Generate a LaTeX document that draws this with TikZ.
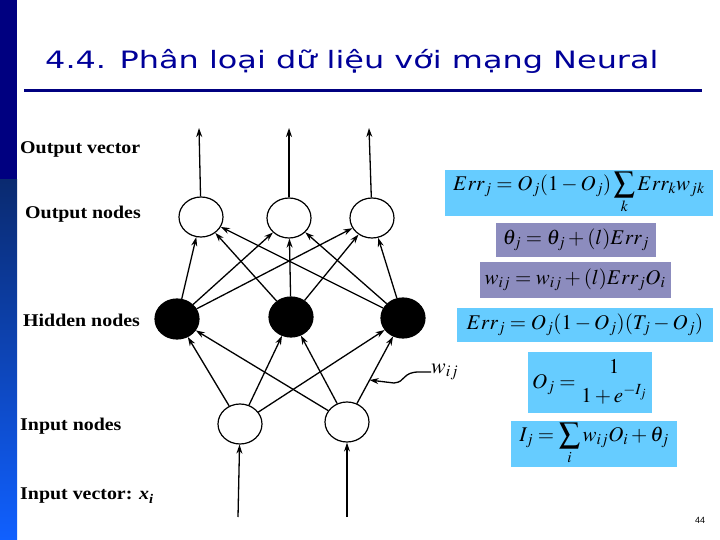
\documentclass[tikz,border=0pt]{standalone}
\usepackage{amsmath}
\usepackage{mathptmx}
\usepackage{fontspec}
\setmainfont{Liberation Serif}
\newfontfamily\titlefont{DejaVu Sans}
\newfontfamily\pagefont{Liberation Sans}
\usetikzlibrary{arrows.meta,shapes.geometric}

\definecolor{navy}{RGB}{0,0,128}
\definecolor{titleblue}{RGB}{0,0,153}
\definecolor{barmid}{RGB}{10,42,112}
\definecolor{barlow}{RGB}{16,96,255}
\definecolor{eqblue}{RGB}{102,204,255}
\definecolor{eqgray}{RGB}{140,140,190}

\newcommand{\wide}[2]{\scalebox{#1}[1]{#2}}

\begin{document}
\begin{tikzpicture}[x=1bp, y=-1bp,
    outnode/.style={ellipse, draw, line width=1.2bp, minimum width=44bp, minimum height=40bp, inner sep=0pt},
    hidnode/.style={outnode, fill=black},
    link/.style={line width=1.3bp, -{Stealth[length=9bp,width=6bp]}},
    lbl/.style={anchor=west, inner sep=0pt, font=\fontsize{18}{20}\selectfont\bfseries},
    eqbox/.style={fill=eqblue, inner sep=0pt, font=\fontsize{21}{23}\selectfont}]

    \useasboundingbox (0,0) rectangle (720,540);

    % Side bar
    \fill[navy] (0,0) rectangle (17,180);
    \shade[top color=barmid, bottom color=barlow] (0,180) rectangle (17,540);

    % Title
    \node[anchor=base west, inner sep=0pt, text=titleblue, font=\titlefont\fontsize{24}{28}\selectfont] (title) at (45,69)
        {\wide{1.335}{4.4. Phân loại dữ liệu với mạng Neural}};
    \draw[navy, line width=3bp] (24,91) -- (702,91);

    % Layers
    \foreach \n/\x/\y in {1/201/217, 2/289/218, 3/372/218} {
        \node[outnode] (o\n) at (\x,\y) {};
    }
    \foreach \n/\x/\y in {1/177/319, 2/291/317, 3/403/318} {
        \node[hidnode] (h\n) at (\x,\y) {};
    }
    \foreach \n/\x/\y in {1/240/424, 2/347/422} {
        \node[outnode] (i\n) at (\x,\y) {};
    }

    % Output vector
    \foreach \n/\x in {1/199, 2/289, 3/369} {
        \coordinate (v\n) at (\x,128);
        \draw[link] (o\n) -- (v\n);
    }

    % Input vector
    \foreach \n/\x in {1/238, 2/347} {
        \coordinate (x\n) at (\x,517);
        \draw[link] (x\n) -- (i\n);
    }

    % Weights
    \foreach \h in {1,2,3} {
        \foreach \o in {1,2,3} {
            \draw[link] (h\h) -- (o\o);
        }
    }
    \foreach \i in {1,2} {
        \foreach \h in {1,2,3} {
            \draw[link] (i\i) -- (h\h);
        }
    }

    % w_ij pointer
    \node[anchor=west, inner sep=0pt, font=\fontsize{22}{24}\selectfont] (wlab) at (431,372) {$w_{ij}$};
    \path (i2) -- (h3) coordinate[pos=0.35] (wpt);
    \draw[line width=1.3bp, -{Stealth[length=9bp,width=6bp]}] (wlab.west) -- ++(-12,0)
        .. controls (402,372) and (406,382) .. (394,383) -- (wpt);

    % Labels
    \node[lbl] (lov) at (20,149) {\wide{1.11}{Output vector}};
    \node[lbl] (lon) at (25,214) {\wide{1.11}{Output nodes}};
    \node[lbl] (lhn) at (23,320) {\wide{1.11}{Hidden nodes}};
    \node[lbl] (lin) at (20,426) {\wide{1.11}{Input nodes}};
    \node[lbl] (liv) at (20,496) {\wide{1.11}{Input vector: \textit{x}\textsubscript{\textit{i}}}};

    % Formulas
    \node[eqbox, minimum width=268bp, minimum height=46bp] (eq1) at (579,193)
        {$\displaystyle Err_j = O_j(1-O_j)\sum_k Err_k w_{jk}$};
    \node[eqbox, fill=eqgray, minimum width=160bp, minimum height=33bp] (eq2) at (576,240)
        {$\theta_j = \theta_j + (l)Err_j$};
    \node[eqbox, fill=eqgray, minimum width=191bp, minimum height=35bp] (eq3) at (575,280)
        {$w_{ij} = w_{ij} + (l)Err_j O_i$};
    \node[eqbox, minimum width=256bp, minimum height=34bp] (eq4) at (585,325)
        {$Err_j = O_j(1-O_j)(T_j-O_j)$};
    \node[eqbox, minimum width=124bp, minimum height=61bp] (eq5) at (590,382)
        {$\displaystyle O_j = \genfrac{}{}{0pt}{}{1}{1+e^{-I_j}}$};
    \node[eqbox, minimum width=166bp, minimum height=46bp] (eq6) at (594,444)
        {$\displaystyle I_j = \sum_i w_{ij}O_i + \theta_j$};

    % Page number
    \node[inner sep=0pt, font=\pagefont\fontsize{9}{10}\selectfont] (pnum) at (700,520) {44};
\end{tikzpicture}
\end{document}
